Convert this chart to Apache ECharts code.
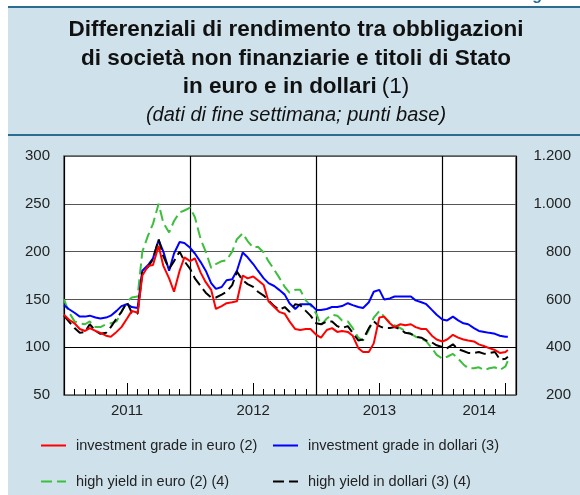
<!DOCTYPE html>
<html>
<head>
<meta charset="utf-8">
<script src="https://cdn.jsdelivr.net/npm/echarts@6/dist/echarts.min.js"></script>
<style>
  html, body { margin: 0; padding: 0; background: #fff; }
  #chart { width: 580px; height: 495px; }
</style>
</head>
<body>
<div id="chart"></div>
<script>
// dati di fine settimana (circa ogni 2 settimane)
const dates = [
  '2011-01-01','2011-01-15','2011-02-01','2011-02-15','2011-03-01','2011-03-15','2011-04-01','2011-04-15',
  '2011-05-01','2011-05-15','2011-06-01','2011-06-15','2011-07-01','2011-07-15','2011-08-01','2011-08-15',
  '2011-09-01','2011-09-15','2011-10-01','2011-10-15','2011-11-01','2011-11-15','2011-12-01','2011-12-15',
  '2012-01-01','2012-01-15','2012-02-01','2012-02-15','2012-03-01','2012-03-15','2012-04-01','2012-04-15',
  '2012-05-01','2012-05-15','2012-06-01','2012-06-15','2012-07-01','2012-07-15','2012-08-01','2012-08-15',
  '2012-09-01','2012-09-15','2012-10-01','2012-10-15','2012-11-01','2012-11-15','2012-12-01','2012-12-15',
  '2013-01-01','2013-01-15','2013-02-01','2013-02-15','2013-03-01','2013-03-15','2013-04-01','2013-04-15',
  '2013-05-01','2013-05-15','2013-06-01','2013-06-15','2013-07-01','2013-07-15','2013-08-01','2013-08-15',
  '2013-09-01','2013-09-15','2013-10-01','2013-10-15','2013-11-01','2013-11-15','2013-12-01','2013-12-15',
  '2014-01-01','2014-01-15','2014-02-01','2014-02-15','2014-03-01','2014-03-15','2014-04-01','2014-04-15',
  '2014-05-01','2014-05-15','2014-06-01','2014-06-15','2014-07-01','2014-07-08'
]

// scala di sinistra
const igEuro = [
  134,129,125,119,117,120,117,115,112,111,
  116,121,130,138,136,175,185,186,206,185,
  172,158,180,194,190,193,178,168,160,140,
  143,146,147,148,175,172,174,170,165,148,
  142,137,135,127,119,118,119,119,113,110,
  118,120,116,117,116,112,99,95,95,104,
  131,132,125,121,124,123,124,121,119,119,
  112,108,106,108,113,110,108,107,106,103,
  101,99,97,94,95,97
]
const igDollari = [
  144,140,136,132,132,133,131,130,131,133,
  138,143,145,142,141,180,186,193,212,200,
  180,198,210,209,204,198,189,180,167,161,
  163,170,171,180,199,194,187,180,172,167,
  164,160,155,146,140,145,145,145,139,139,
  140,142,142,143,146,144,142,141,147,158,
  160,150,151,153,153,153,153,149,147,145,
  139,134,129,128,132,128,125,124,120,117,
  116,115,114,112,111,111
]
// scala di destra
const hyEuro = [
  600,548,508,500,496,508,484,484,496,500,
  508,548,592,608,612,800,868,916,1000,920,
  880,928,964,972,984,944,852,800,732,748,
  760,764,800,852,876,844,816,820,796,760,
  724,692,652,628,640,640,596,576,540,492,
  520,536,532,512,508,480,440,428,472,524,
  552,528,504,492,480,468,456,444,436,424,
  396,368,352,360,372,352,328,312,312,316,
  304,312,316,304,320,344
]
const hyDollari = [
  532,508,480,460,464,496,468,456,460,484,
  520,548,588,544,540,712,736,768,852,780,
  728,760,800,760,728,688,656,628,608,608,
  620,632,660,716,680,664,652,632,616,596,
  572,556,568,548,580,576,552,532,500,496,
  508,508,488,480,488,460,428,432,480,508,
  488,480,480,484,476,460,456,444,440,428,
  420,408,400,396,412,392,384,376,376,380,
  372,376,380,348,352,360
]

const yearLabels = ['2011', '2012', '2013', '2014']
const yearLabelPos = [6, 18, 30, 39.5]   // mesi dall'inizio del 2011
const seriesNames = [
  'investment grade in euro (2)',
  'investment grade in dollari (3)',
  'high yield in euro (2) (4)',
  'high yield in dollari (3) (4)'
]

const FONT = 'Liberation Sans, Arial, Helvetica, sans-serif'

// data -> mesi dall'inizio del 2011
function monthIndex(s) {
  const [y, m, d] = s.split('-').map(Number)
  const dim = new Date(y, m, 0).getDate()
  return (y - 2011) * 12 + (m - 1) + (d - 1) / dim
}
const pairs = (vals) => dates.map((d, i) => [monthIndex(d), vals[i]])

function thousands(v) {
  return v >= 1000 ? Math.floor(v / 1000) + '.' + String(v % 1000).padStart(3, '0') : String(v)
}

function legendItem(name, left, top) {
  return {
    data: [name], left, top, itemWidth: 25, itemHeight: 14,
    itemStyle: { opacity: 0 },
    textStyle: { fontFamily: FONT, fontSize: 14.5, color: '#222', padding: [0, 0, 0, 5] }
  }
}

const chart = echarts.init(document.getElementById('chart'), null, { renderer: 'canvas' })

const baseX = { type: 'value', min: 0, max: 43, gridIndex: 0, position: 'bottom',
  axisLine: { show: false }, axisLabel: { show: false }, axisTick: { show: false }, splitLine: { show: false } }

const option = {
  backgroundColor: '#fff',
  animation: false,
  textStyle: { fontFamily: FONT },
  title: {
    text: '{b|Differenziali di rendimento tra obbligazioni}\n{b|di società non finanziarie e titoli di Stato}\n{b|in euro e in dollari} {n|(1)}\n{i|(dati di fine settimana; punti base)}',
    left: 291, top: 11, textAlign: 'center',
    textStyle: {
      fontWeight: 'normal',
      rich: {
        b: { fontFamily: FONT, fontWeight: 'bold', fontSize: 22.5, lineHeight: 28.5, color: '#111' },
        n: { fontFamily: FONT, fontWeight: 'normal', fontSize: 22.5, lineHeight: 28.5, color: '#111' },
        i: { fontFamily: FONT, fontWeight: 'normal', fontStyle: 'italic', fontSize: 20, lineHeight: 28.5, color: '#111' }
      }
    }
  },
  graphic: [
    { type: 'rect', z: -100, shape: { x: 8, y: 7, width: 572, height: 488 }, style: { fill: '#cfe2ec' } },
    { type: 'line', z: -90, shape: { x1: 8, y1: 7, x2: 580, y2: 7 }, style: { stroke: '#2b6d8e', lineWidth: 2 } },
    { type: 'line', z: -90, shape: { x1: 8, y1: 135, x2: 580, y2: 135 }, style: { stroke: '#2b6d8e', lineWidth: 2 } },
    { type: 'text', z: -80, x: 518, y: -12, style: { text: 'Figura 1', font: 'bold 16px ' + FONT, fill: '#1f6f9c' } }
  ],
  grid: {
    left: 64, right: 64, top: 156, bottom: 100,
    show: true, backgroundColor: '#fff', borderColor: '#5a5a5a', borderWidth: 1.5
  },
  legend: [
    legendItem(seriesNames[0], 35, 433),
    legendItem(seriesNames[1], 267, 433),
    legendItem(seriesNames[2], 35, 469),
    legendItem(seriesNames[3], 267, 469)
  ],
  xAxis: [
    // linee verticali di inizio anno
    Object.assign({}, baseX, { interval: 12,
      splitLine: { show: true, lineStyle: { color: '#000', width: 1.2 } } }),
    // tacche mensili
    Object.assign({}, baseX, { interval: 1,
      axisTick: { show: true, inside: true, length: 6, lineStyle: { color: '#000', width: 1 } } }),
    // tacche di metà anno
    Object.assign({}, baseX, { interval: 6,
      axisTick: { show: true, inside: true, length: 12, lineStyle: { color: '#000', width: 1 } } }),
    // etichette degli anni
    Object.assign({}, baseX, { interval: 6,
      axisLabel: { show: true, customValues: yearLabelPos, margin: 8,
        fontFamily: FONT, fontSize: 15, color: '#222',
        formatter: (v) => yearLabels[yearLabelPos.indexOf(v)] || '' } })
  ],
  yAxis: [
    {
      type: 'value', min: 50, max: 300, interval: 50, position: 'left',
      axisLine: { show: false }, axisTick: { show: false },
      axisLabel: { fontFamily: FONT, fontSize: 15, color: '#222', margin: 14 },
      splitLine: { show: true, lineStyle: { color: ['#5a5a5a', '#000', '#555', '#555', '#555', '#5a5a5a'], width: 1.2 } }
    },
    {
      type: 'value', min: 200, max: 1200, interval: 200, position: 'right',
      axisLine: { show: false }, axisTick: { show: false }, splitLine: { show: false },
      axisLabel: { fontFamily: FONT, fontSize: 15, color: '#222', margin: 55, align: 'right',
        formatter: thousands }
    }
  ],
  series: [
    { name: seriesNames[2], type: 'line', data: pairs(hyEuro), xAxisIndex: 0, yAxisIndex: 1,
      symbol: 'none', color: '#3cbf3c', lineStyle: { width: 2, color: '#3cbf3c', type: [11, 5] } },
    { name: seriesNames[1], type: 'line', data: pairs(igDollari), xAxisIndex: 0, yAxisIndex: 0,
      symbol: 'none', color: '#0000ff', lineStyle: { width: 2, color: '#0000ff' } },
    { name: seriesNames[3], type: 'line', data: pairs(hyDollari), xAxisIndex: 0, yAxisIndex: 1,
      symbol: 'none', color: '#000', lineStyle: { width: 2, color: '#000', type: [11, 5] } },
    { name: seriesNames[0], type: 'line', data: pairs(igEuro), xAxisIndex: 0, yAxisIndex: 0,
      symbol: 'none', color: '#ff0000', lineStyle: { width: 2, color: '#ff0000' } }
  ]
}

chart.setOption(option)
</script>
</body>
</html>
